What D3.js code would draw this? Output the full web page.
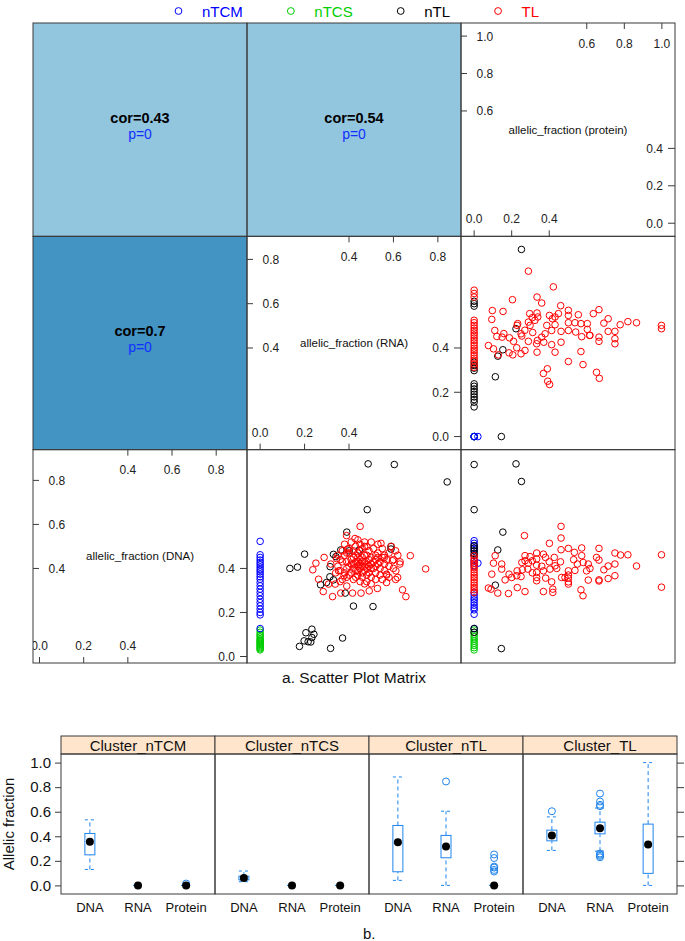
<!DOCTYPE html>
<html><head><meta charset="utf-8">
<script src="https://cdn.jsdelivr.net/npm/d3@7"></script>
<style>
body{margin:0;background:#fff}
svg{display:block}
text{font-family:"Liberation Sans",Arial,Helvetica,sans-serif}
</style>
</head><body>
<svg id="c" width="685" height="941"></svg>
<script>
// ---------------- DATA ----------------
const clusters = ["nTCM", "nTCS", "nTL", "TL"];
const varNames = ["allelic_fraction (DNA)", "allelic_fraction (RNA)", "allelic_fraction (protein)"];
const varDataRange = [[0.03, 0.88], [0, 0.845], [0, 1]];
const diagLowTicks = [[0, 0.2, 0.4], [0, 0.2, 0.4], [0, 0.2, 0.4]];
const diagHighTicks = [[0.4, 0.6, 0.8], [0.4, 0.6, 0.8], [0.6, 0.8, 1.0]];

// correlation panels: [xVar, yVar]
const corPairs = [[0, 2], [1, 2], [0, 1]];
const corValues = [0.43, 0.54, 0.7];
const pValues = [0, 0, 0];

// scatter: x = RNA, y = DNA
const rnaDna_nTCM = [[0,0.523],[0,0.462],[0,0.45],[0,0.438],[0,0.427],[0,0.417],[0,0.406],[0,0.395],[0,0.385],[0,0.374],[0,0.362],[0,0.351],[0,0.336],[0,0.321],[0,0.306],[0,0.291],[0,0.276],[0,0.26],[0,0.245],[0,0.23],[0,0.215],[0,0.2],[0,0.189],[0,0.127]];
const rnaDna_nTCS = [[0,0.12],[0,0.11],[0,0.1],[0,0.095],[0,0.088],[0,0.08],[0,0.075],[0,0.07],[0,0.065],[0,0.06],[0,0.055],[0,0.05],[0,0.045],[0,0.04],[0,0.035],[0,0.03]];
const rnaDna_nTL = [[0.486,0.875],[0.604,0.872],[0.842,0.793],[0.482,0.667],[0.39,0.565],[0.2,0.465],[0.134,0.40],[0.168,0.406],[0.33,0.464],[0.341,0.454],[0.363,0.484],[0.315,0.408],[0.314,0.362],[0.299,0.336],[0.272,0.326],[0.33,0.348],[0.383,0.288],[0.42,0.229],[0.508,0.227],[0.589,0.5],[0.589,0.488],[0.401,0.48],[0.446,0.484],[0.233,0.124],[0.206,0.108],[0.242,0.101],[0.233,0.086],[0.198,0.071],[0.216,0.067],[0.228,0.066],[0.177,0.046],[0.317,0.037],[0.371,0.084]];
const rnaDna_TL = [[0.45,0.591],[0.427,0.536],[0.389,0.549],[0.544,0.514],[0.676,0.458],[0.745,0.398],[0.237,0.394],[0.251,0.424],[0.288,0.45],[0.263,0.351],[0.284,0.295],[0.326,0.272],[0.363,0.288],[0.641,0.303],[0.656,0.272],[0.629,0.42],[0.611,0.389],[0.619,0.359],[0.596,0.435],[0.569,0.374],[0.569,0.336],[0.528,0.309],[0.491,0.298],[0.454,0.288],[0.416,0.288],[0.308,0.329],[0.338,0.329],[0.353,0.389],[0.393,0.488],[0.378,0.367],[0.344,0.445],[0.318,0.42],[0.559,0.45],
[0.40,0.47],[0.42,0.45],[0.44,0.43],[0.46,0.41],[0.48,0.40],[0.50,0.42],[0.52,0.44],[0.47,0.46],[0.45,0.48],[0.43,0.50],
[0.41,0.42],[0.39,0.40],[0.37,0.43],[0.38,0.46],[0.36,0.39],[0.40,0.37],[0.42,0.35],[0.44,0.37],[0.46,0.36],[0.48,0.34],
[0.50,0.36],[0.52,0.38],[0.54,0.40],[0.56,0.42],[0.55,0.45],[0.53,0.47],[0.51,0.49],[0.49,0.48],[0.47,0.50],[0.45,0.51],
[0.43,0.39],[0.45,0.40],[0.47,0.39],[0.49,0.38],[0.51,0.40],[0.53,0.42],[0.49,0.44],[0.47,0.43],[0.45,0.44],[0.43,0.46],
[0.41,0.44],[0.39,0.43],[0.40,0.41],[0.42,0.40],[0.44,0.41],[0.46,0.43],[0.48,0.42],[0.50,0.45],[0.52,0.41],[0.54,0.37],
[0.56,0.39],[0.58,0.41],[0.57,0.44],[0.58,0.47],[0.55,0.49],[0.53,0.51],[0.50,0.52],[0.48,0.50],[0.46,0.49],[0.44,0.47],
[0.42,0.48],[0.40,0.49],[0.38,0.51],[0.41,0.52],[0.44,0.53],[0.47,0.52],[0.60,0.44],[0.62,0.46],[0.61,0.48],[0.59,0.50],
[0.43,0.36],[0.45,0.34],[0.47,0.33],[0.50,0.33],[0.52,0.35],[0.55,0.35],[0.57,0.37],[0.41,0.38],[0.39,0.36],[0.37,0.35],
[0.35,0.41],[0.36,0.44],[0.38,0.38],[0.44,0.45],[0.46,0.45],[0.48,0.46],[0.50,0.40],[0.51,0.43],[0.49,0.41],[0.47,0.41],
[0.45,0.42],[0.43,0.43],[0.42,0.42],[0.44,0.39],[0.46,0.38],[0.48,0.37],[0.53,0.45],[0.56,0.46],[0.54,0.43],[0.52,0.46],
[0.60,0.40],[0.63,0.43],[0.58,0.36],[0.61,0.35],[0.39,0.47],[0.37,0.48],[0.35,0.46],[0.34,0.38],[0.36,0.34],[0.39,0.32]];

// scatter: x = protein, y = RNA
const protRna_nTCM = [[0,0],[0,0],[0,0],[0.02,0]];
const protRna_nTCS = [[0,0],[0,0],[0,0]];
const protRna_nTL = [[0.252,0.845],[0.223,0.487],[0.153,0.392],[0.126,0.363],[0.113,0.27],[0.145,0],[0,0.611],[0,0.6],[0,0.589],[0,0.336],[0,0.321],[0,0.309],[0,0.298],[0,0.238],[0,0.227],[0,0.215],[0,0.203],[0,0.191],[0,0.179],[0,0.167],[0,0.155],[0,0.134]];
const protRna_TL = [[0,0.661],[0,0.646],[0,0.63],[0,0.525],[0,0.514],[0,0.502],[0,0.49],[0,0.479],[0,0.468],[0,0.457],[0,0.445],[0,0.434],[0,0.423],[0,0.411],[0,0.399],[0,0.389],[0,0.378],[0,0.366],[0,0.354],[0,0.344],[0,0.328],[0,0.313],
[0.289,0.747],[0.422,0.676],[0.204,0.618],[0.335,0.63],[0.36,0.603],[0.461,0.591],[0.097,0.569],[0.154,0.565],[0.094,0.529],[0.296,0.555],[0.335,0.558],[0.502,0.57],[0.555,0.55],[0.635,0.555],[0.665,0.573],[0.714,0.532],[0.691,0.512],[0.778,0.505],[0.819,0.519],[0.865,0.514],[0.998,0.502],[0.998,0.487],[0.75,0.475],[0.714,0.475],[0.75,0.442],[0.75,0.419],[0.665,0.449],[0.665,0.43],[0.617,0.457],[0.573,0.451],[0.569,0.384],[0.58,0.325],[0.502,0.339],[0.652,0.29],[0.667,0.263],[0.39,0.306],[0.369,0.285],[0.392,0.25],[0.402,0.235],[0.076,0.411],[0.11,0.479],[0.121,0.452],[0.149,0.449],[0.188,0.446],[0.103,0.396],[0.129,0.369],[0.186,0.378],[0.206,0.369],[0.227,0.401],[0.25,0.374],[0.271,0.389],[0.232,0.51],[0.229,0.502],[0.25,0.464],[0.254,0.454],[0.289,0.43],[0.312,0.47],[0.298,0.502],[0.333,0.419],[0.335,0.381],[0.337,0.434],[0.36,0.449],[0.378,0.464],[0.371,0.426],[0.339,0.54],[0.324,0.525],[0.31,0.537],[0.289,0.517],[0.401,0.547],[0.417,0.532],[0.431,0.54],[0.449,0.555],[0.387,0.502],[0.431,0.505],[0.413,0.479],[0.463,0.475],[0.463,0.426],[0.431,0.381],[0.413,0.415],[0.502,0.547],[0.502,0.514],[0.502,0.479],[0.537,0.514],[0.541,0.472],[0.569,0.51],[0.603,0.51],[0.603,0.484],[0.615,0.457],[0.158,0.465],[0.27,0.48],[0.21,0.43]];

// scatter: x = protein, y = DNA
const protDna_nTCM = [[0,0.526],[0,0.514],[0,0.503],[0,0.491],[0,0.479],[0,0.458],[0,0.435],[0,0.424],[0,0.412],[0,0.291],[0,0.279],[0,0.266],[0,0.257],[0,0.245],[0,0.233],[0,0.222],[0,0.212],[0,0.192],[0.02,0.424],[0,0.127]];
const protDna_nTCS = [[0,0.12],[0,0.11],[0,0.1],[0,0.09],[0,0.08],[0,0.07],[0,0.06],[0,0.05],[0,0.04],[0,0.03]];
const protDna_nTL = [[0,0.872],[0.223,0.875],[0.252,0.795],[0,0.667],[0.153,0.565],[0.126,0.484],[0.113,0.324],[0.145,0.036],[0,0.503],[0,0.493],[0,0.48],[0,0.468],[0,0.458],[0,0.127],[0,0.11]];
const protDna_TL = [[0,0.458],[0,0.445],[0,0.435],[0,0.424],[0,0.415],[0,0.404],[0,0.394],[0,0.382],[0,0.37],[0,0.359],[0,0.348],[0,0.336],[0,0.324],[0,0.313],[0,0.303],[0,0.291],
[0.463,0.591],[0.268,0.549],[0.463,0.538],[0.401,0.514],[0.463,0.485],[0.502,0.491],[0.534,0.473],[0.573,0.493],[0.665,0.491],[0.75,0.47],[0.78,0.461],[0.819,0.462],[0.998,0.462],[0.998,0.315],[0.865,0.411],[0.75,0.42],[0.714,0.411],[0.691,0.394],[0.75,0.367],[0.714,0.354],[0.665,0.348],[0.665,0.343],[0.652,0.45],[0.665,0.438],[0.608,0.42],[0.617,0.4],[0.599,0.389],[0.608,0.347],[0.573,0.458],[0.581,0.427],[0.569,0.303],[0.58,0.276],[0.537,0.391],[0.502,0.389],[0.502,0.37],[0.502,0.356],[0.502,0.339],[0.502,0.329],[0.484,0.359],[0.466,0.359],[0.413,0.339],[0.419,0.306],[0.419,0.291],[0.369,0.295],[0.427,0.45],[0.431,0.412],[0.404,0.397],[0.369,0.389],[0.369,0.465],[0.333,0.47],[0.333,0.443],[0.31,0.435],[0.298,0.454],[0.333,0.415],[0.333,0.382],[0.333,0.359],[0.333,0.344],[0.381,0.356],[0.271,0.458],[0.271,0.435],[0.289,0.424],[0.286,0.397],[0.254,0.427],[0.257,0.394],[0.25,0.363],[0.229,0.389],[0.227,0.367],[0.2,0.359],[0.186,0.374],[0.165,0.348],[0.23,0.313],[0.183,0.286],[0.271,0.295],[0.112,0.458],[0.103,0.424],[0.147,0.42],[0.147,0.397],[0.126,0.288],[0.094,0.374],[0.076,0.311],[0.09,0.306],[0.38,0.45],[0.4,0.43],[0.36,0.41],[0.31,0.38],[0.44,0.40],[0.46,0.43],[0.55,0.42],[0.53,0.44]];

// box plots: [lowWhisker, q1, median, q3, highWhisker]
const boxPanels = ["Cluster_nTCM", "Cluster_nTCS", "Cluster_nTL", "Cluster_TL"];
const boxCats = ["DNA", "RNA", "Protein"];
const box_nTCM = [[0.13,0.249,0.355,0.423,0.534],[0,0,0,0,0],[0,0,0,0,0]];
const box_nTCS = [[0.03,0.045,0.06,0.075,0.117],[0,0,0,0,0],[0,0,0,0,0]];
const box_nTL = [[0.041,0.111,0.352,0.488,0.883],[0,0.225,0.317,0.407,0.604],[0,0,0,0,0]];
const box_TL = [[0.285,0.363,0.407,0.45,0.558],[0.279,0.42,0.466,0.515,0.63],[0,0.098,0.333,0.499,1.0]];
const out_nTCM = [[],[],[0.015]];
const out_nTCS = [[],[],[]];
const out_nTL = [[],[0.846],[0.252,0.223,0.153,0.145,0.126,0.113]];
const out_TL = [[0.604],[0.748,0.683,0.656,0.645,0.26,0.25,0.24,0.229],[]];
const boxYTicks = [0, 0.2, 0.4, 0.6, 0.8, 1.0];

// ---------------- STYLE ----------------
const clusterColors = {nTCM: "#0000ff", nTCS: "#00cd00", nTL: "#000000", TL: "#ff0000"};
const lineCol = "#3a3a3a";
const boxCol = "#1f84ec";

const svg = d3.select("#c");
const defs = svg.append("defs");

// ---------------- LEGEND ----------------
{
  const lg = svg.append("g");
  let x = 178.5;
  clusters.forEach((c) => {
    lg.append("circle").attr("cx", x).attr("cy", 11).attr("r", 3.4)
      .attr("fill", "none").attr("stroke", clusterColors[c]).attr("stroke-width", 1);
    const t = lg.append("text").attr("x", x + 23.5).attr("y", 16.5)
      .attr("font-size", 15).attr("fill", clusterColors[c]).text(c);
    x = x + 23.5 + t.node().getComputedTextLength() + 48;
  });
}

// ---------------- SCATTER PLOT MATRIX ----------------
const M = {x0: 33, y0: 23, w: 642, h: 640};
const cw = M.w / 3, ch = M.h / 3;
const pad = 0.07;
const lim = varDataRange.map(([a, b]) => [a - pad * (b - a), b + pad * (b - a)]);
const xs = [0, 1, 2].map(v => d3.scaleLinear().domain(lim[v]).range([M.x0 + v * cw, M.x0 + (v + 1) * cw]));
const ys = [0, 1, 2].map(v => { const r = 2 - v; return d3.scaleLinear().domain(lim[v]).range([M.y0 + (r + 1) * ch, M.y0 + r * ch]); });
const cellX = v => M.x0 + v * cw;          // column of x variable
const cellY = v => M.y0 + (2 - v) * ch;    // row of y variable

function clipFor(id, xv, yv) {
  defs.append("clipPath").attr("id", id).append("rect")
    .attr("x", cellX(xv)).attr("y", cellY(yv)).attr("width", cw).attr("height", ch);
  return "url(#" + id + ")";
}

// correlation panels
const corFill = d3.scaleThreshold().domain([0.2, 0.6, 0.8]).range(["#f7f7f7", "#92c5de", "#4393c3", "#2166ac"]);
corPairs.forEach(([xv, yv], i) => {
  const g = svg.append("g");
  g.append("rect").attr("x", cellX(xv)).attr("y", cellY(yv)).attr("width", cw).attr("height", ch)
    .attr("fill", corFill(corValues[i]));
  const cx = cellX(xv) + cw / 2, cy = cellY(yv) + ch / 2;
  g.append("text").attr("x", cx).attr("y", cy - 7).attr("text-anchor", "middle")
    .attr("font-size", 14.5).attr("font-weight", "bold").attr("fill", "#000").text("cor=" + corValues[i]);
  g.append("text").attr("x", cx).attr("y", cy + 9).attr("text-anchor", "middle")
    .attr("font-size", 14).attr("fill", "#1030ff").text("p=" + pValues[i]);
});

// diagonal panels
[0, 1, 2].forEach(v => {
  const g = svg.append("g").attr("clip-path", clipFor("diag" + v, v, v));
  const x0 = cellX(v), y0 = cellY(v), x1 = x0 + cw, y1 = y0 + ch;
  const xsc = xs[v], ysc = ys[v];
  g.append("text").attr("x", x0 + cw / 2).attr("y", y0 + ch / 2 + 4).attr("text-anchor", "middle")
    .attr("font-size", 11.5).attr("fill", "#111").text(varNames[v]);
  diagLowTicks[v].forEach(t => {
    // bottom
    g.append("line").attr("x1", xsc(t)).attr("x2", xsc(t)).attr("y1", y1).attr("y2", y1 - 6).attr("stroke", lineCol);
    g.append("text").attr("x", xsc(t)).attr("y", y1 - 13).attr("text-anchor", "middle").attr("font-size", 12).attr("fill", "#222").text(d3.format(".1f")(t));
    // right
    g.append("line").attr("x1", x1).attr("x2", x1 - 7).attr("y1", ysc(t)).attr("y2", ysc(t)).attr("stroke", lineCol);
    g.append("text").attr("x", x1 - 12).attr("y", ysc(t) + 4.5).attr("text-anchor", "end").attr("font-size", 12).attr("fill", "#222").text(d3.format(".1f")(t));
  });
  diagHighTicks[v].forEach(t => {
    // top
    g.append("line").attr("x1", xsc(t)).attr("x2", xsc(t)).attr("y1", y0).attr("y2", y0 + 6).attr("stroke", lineCol);
    g.append("text").attr("x", xsc(t)).attr("y", y0 + 24.5).attr("text-anchor", "middle").attr("font-size", 12).attr("fill", "#222").text(d3.format(".1f")(t));
    // left
    g.append("line").attr("x1", x0).attr("x2", x0 + 6).attr("y1", ysc(t)).attr("y2", ysc(t)).attr("stroke", lineCol);
    g.append("text").attr("x", x0 + 15.5).attr("y", ysc(t) + 4.5).attr("text-anchor", "start").attr("font-size", 12).attr("fill", "#222").text(d3.format(".1f")(t));
  });
});

// scatter panels
const scatterPanels = [
  {xv: 2, yv: 1, data: {nTCM: protRna_nTCM, nTCS: protRna_nTCS, nTL: protRna_nTL, TL: protRna_TL}},
  {xv: 1, yv: 0, data: {nTCM: rnaDna_nTCM, nTCS: rnaDna_nTCS, nTL: rnaDna_nTL, TL: rnaDna_TL}},
  {xv: 2, yv: 0, data: {nTCM: protDna_nTCM, nTCS: protDna_nTCS, nTL: protDna_nTL, TL: protDna_TL}}
];
const drawOrder = ["nTCS", "nTCM", "nTL", "TL"];
scatterPanels.forEach((p, k) => {
  const g = svg.append("g").attr("clip-path", clipFor("sc" + k, p.xv, p.yv));
  drawOrder.forEach(c => {
    g.selectAll(null).data(p.data[c]).enter().append("circle")
      .attr("cx", d => xs[p.xv](d[0])).attr("cy", d => ys[p.yv](d[1])).attr("r", 3.3)
      .attr("fill", "none").attr("stroke", clusterColors[c]).attr("stroke-width", 1);
  });
});

// cell borders
for (let r = 0; r < 3; r++) for (let c = 0; c < 3; c++) {
  svg.append("rect").attr("x", M.x0 + c * cw).attr("y", M.y0 + r * ch).attr("width", cw).attr("height", ch)
    .attr("fill", "none").attr("stroke", lineCol).attr("stroke-width", 1);
}

svg.append("text").attr("x", 354).attr("y", 682.5).attr("text-anchor", "middle")
  .attr("font-size", 15.5).attr("fill", "#111").text("a. Scatter Plot Matrix");

// ---------------- BOX PLOTS ----------------
const B = {x0: 61, x1: 677, top: 736, stripH: 18, bottom: 894};
const pw = (B.x1 - B.x0) / boxPanels.length;
const yB = d3.scaleLinear().domain([-0.07, 1.07]).range([B.bottom, B.top + B.stripH]);
const boxStats = [box_nTCM, box_nTCS, box_nTL, box_TL];
const boxOut = [out_nTCM, out_nTCS, out_nTL, out_TL];

boxPanels.forEach((name, pi) => {
  const px0 = B.x0 + pi * pw;
  const xB = d3.scaleLinear().domain([0.4, boxCats.length + 0.6]).range([px0, px0 + pw]);
  const g = svg.append("g");
  // strip
  g.append("rect").attr("x", px0).attr("y", B.top).attr("width", pw).attr("height", B.stripH)
    .attr("fill", "#ffe5cc").attr("stroke", lineCol).attr("stroke-width", 1);
  g.append("text").attr("x", px0 + pw / 2).attr("y", B.top + 14.5).attr("text-anchor", "middle")
    .attr("font-size", 15).attr("fill", "#111").text(name);
  // panel
  g.append("rect").attr("x", px0).attr("y", B.top + B.stripH).attr("width", pw).attr("height", B.bottom - B.top - B.stripH)
    .attr("fill", "none").attr("stroke", lineCol).attr("stroke-width", 1);
  boxCats.forEach((cat, ci) => {
    const s = boxStats[pi][ci];
    const cx = xB(ci + 1), hw = 5;
    // whiskers
    g.append("line").attr("x1", cx).attr("x2", cx).attr("y1", yB(s[0])).attr("y2", yB(s[1]))
      .attr("stroke", boxCol).attr("stroke-dasharray", "4,3");
    g.append("line").attr("x1", cx).attr("x2", cx).attr("y1", yB(s[3])).attr("y2", yB(s[4]))
      .attr("stroke", boxCol).attr("stroke-dasharray", "4,3");
    [s[0], s[4]].forEach(w => g.append("line").attr("x1", cx - hw).attr("x2", cx + hw).attr("y1", yB(w)).attr("y2", yB(w))
      .attr("stroke", boxCol).attr("stroke-dasharray", "3,3"));
    // box
    g.append("rect").attr("x", cx - hw).attr("y", yB(s[3])).attr("width", 2 * hw).attr("height", Math.max(0, yB(s[1]) - yB(s[3])))
      .attr("fill", "none").attr("stroke", boxCol).attr("stroke-width", 1);
    // outliers
    boxOut[pi][ci].forEach(o => g.append("circle").attr("cx", cx).attr("cy", yB(o)).attr("r", 3.5)
      .attr("fill", "none").attr("stroke", boxCol).attr("stroke-width", 1));
    // median dot
    g.append("circle").attr("cx", cx).attr("cy", yB(s[2])).attr("r", 4).attr("fill", "#000");
    // x label
    g.append("text").attr("x", cx).attr("y", B.bottom + 18).attr("text-anchor", "middle")
      .attr("font-size", 13).attr("fill", "#111").text(cat);
  });
});

// y axis (left, labelled) and right ticks
const axL = d3.axisLeft(yB).tickValues(boxYTicks).tickFormat(d3.format(".1f")).tickSize(6).tickSizeOuter(0);
const gL = svg.append("g").attr("transform", `translate(${B.x0},0)`).call(axL);
gL.select(".domain").remove();
gL.selectAll("line").attr("stroke", lineCol);
gL.selectAll("text").attr("font-size", 15).attr("fill", "#111").attr("font-family", '"Liberation Sans",Arial,sans-serif').attr("x", -10);
const axR = d3.axisRight(yB).tickValues(boxYTicks).tickFormat("").tickSize(7).tickSizeOuter(0);
const gR = svg.append("g").attr("transform", `translate(${B.x1},0)`).call(axR);
gR.select(".domain").remove();
gR.selectAll("line").attr("stroke", lineCol);

svg.append("text").attr("transform", `translate(14,${(B.top + B.stripH + B.bottom) / 2}) rotate(-90)`)
  .attr("text-anchor", "middle").attr("font-size", 15).attr("fill", "#111").text("Allelic fraction");

svg.append("text").attr("x", 363).attr("y", 939).attr("font-size", 15).attr("fill", "#111").text("b.");
</script>
</body></html>
